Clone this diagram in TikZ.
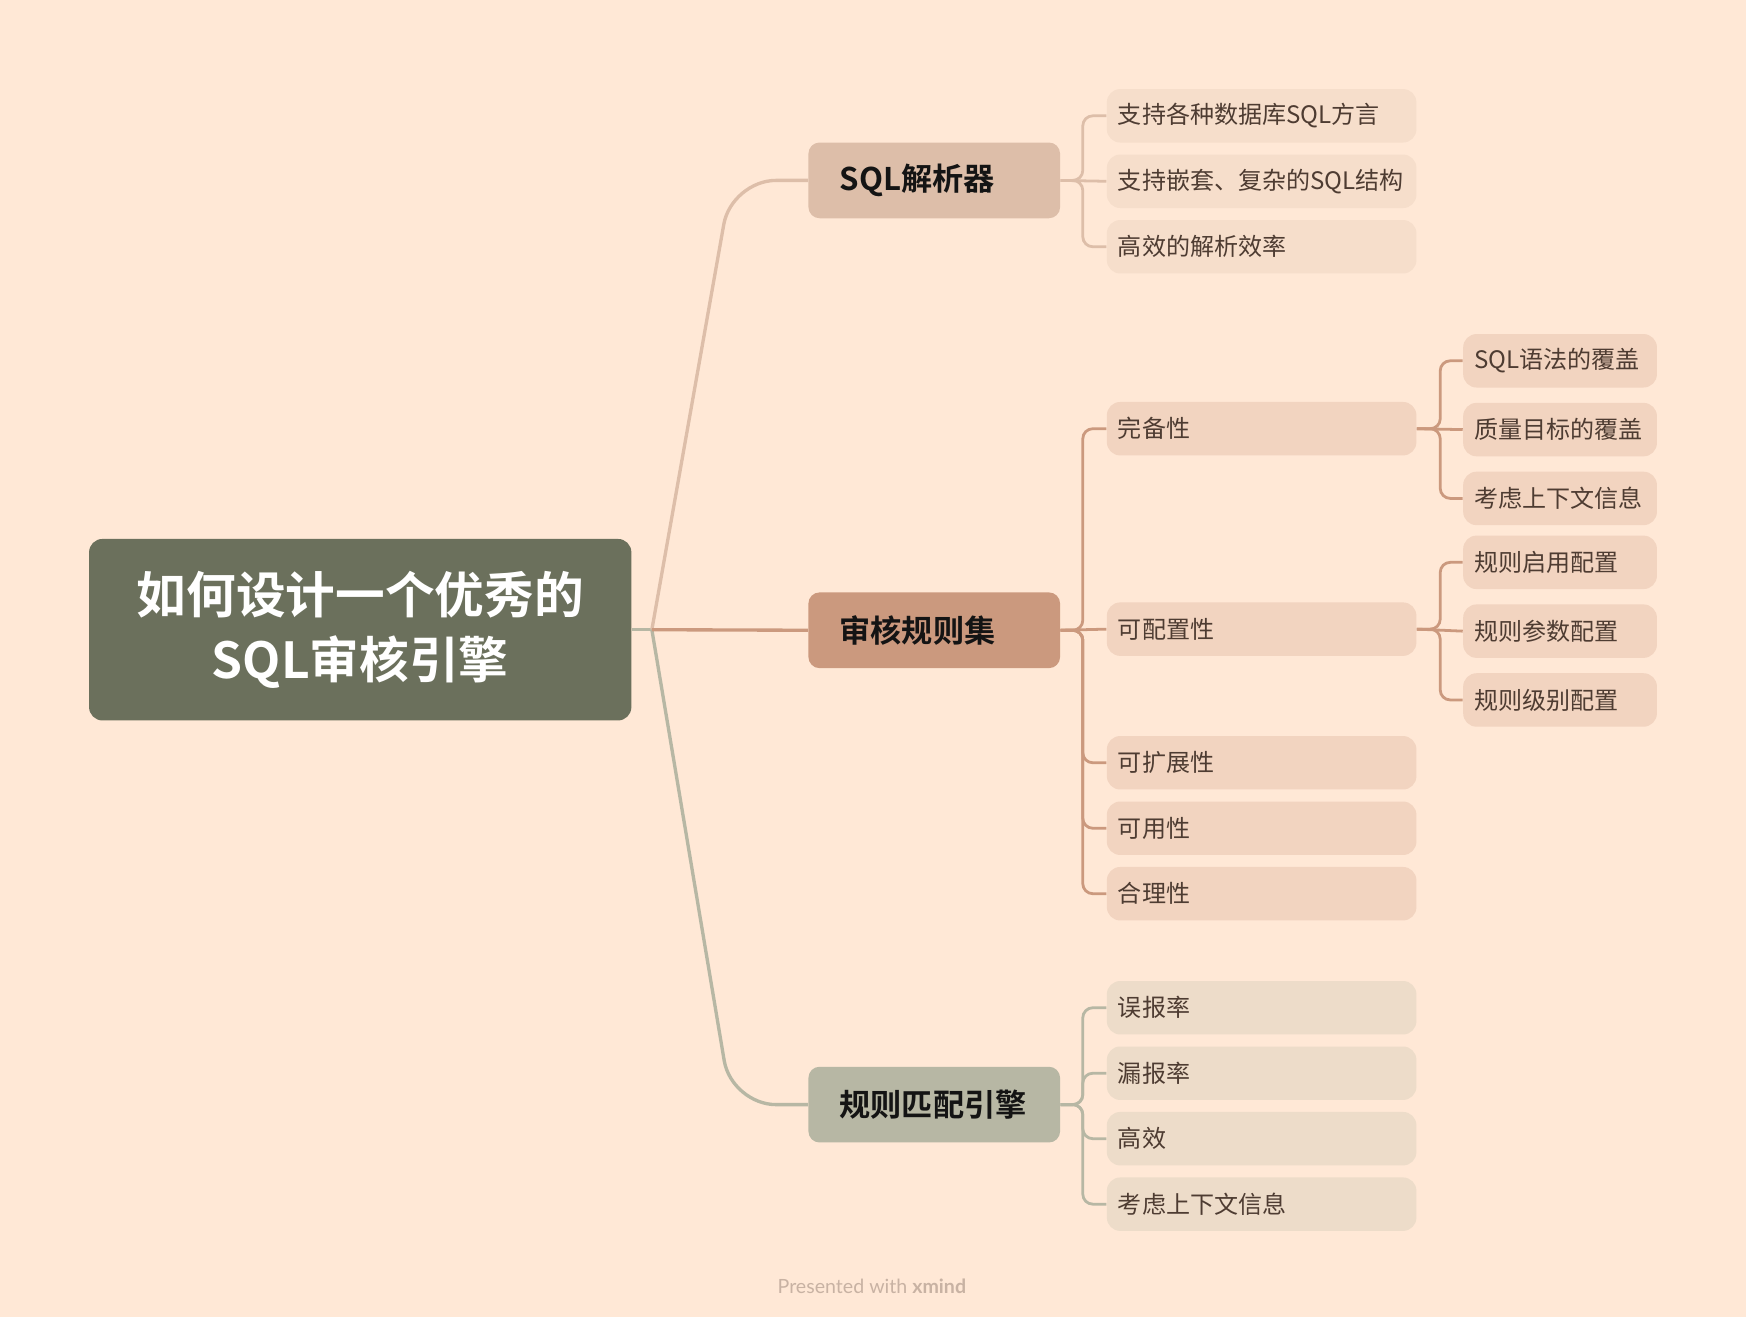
\documentclass[tikz,border=0pt]{standalone}
\usepackage{fontspec}
\setmainfont{Noto Sans CJK SC}[BoldFont={Noto Sans CJK SC Bold}]
\newfontfamily\footfont{Lato}
\usetikzlibrary{positioning}
\definecolor{bgpeach}{HTML}{FFE8D6}
\definecolor{rootgrey}{HTML}{6B705C}
\definecolor{sqlc}{HTML}{DDBEA9}
\definecolor{rulec}{HTML}{CB997E}
\definecolor{matchc}{HTML}{B7B7A4}
\definecolor{leaftext}{HTML}{4E3C32}
\definecolor{footc}{HTML}{C8B2A3}

\begin{document}
\begin{tikzpicture}[x=0.5pt,y=-0.5pt,node distance=5pt,
  root/.style={fill=rootgrey,rounded corners=6pt,minimum width=243.5pt,minimum height=81.5pt,inner sep=0pt,align=center,text=white,font=\fontsize{22.3}{29}\selectfont\bfseries},
  branch/.style={rounded corners=5pt,minimum width=113pt,minimum height=34pt,text width=85pt,inner xsep=14pt,inner ysep=0pt,align=left,text=black!92,font=\fontsize{14}{17}\selectfont\bfseries},
  leaf/.style={rounded corners=6pt,minimum height=24pt,inner xsep=5pt,inner ysep=0pt,align=left,text=leaftext,font=\fontsize{10.8}{12}\selectfont},
  sub/.style={leaf,text width=129pt},
  subsub/.style={leaf,text width=77pt},
  link/.style={line width=1.25pt,rounded corners=4.5pt}]
\fill[bgpeach] (0,0) rectangle (1568,1183);

% central topic and main branches
\node[root] (topic) at (323.5,565.5) {如何设计一个优秀的\\SQL审核引擎};
\node[branch,fill=sqlc] (parser) at (839,162) {SQL解析器};
\node[branch,fill=rulec] (rules) at (839,566) {审核规则集};
\node[branch,fill=matchc] (engine) at (839,992) {规则匹配引擎};
\coordinate (fork) at ([xshift=9pt]topic.east);

\draw[matchc,line width=1.5pt] (topic.east) -- (fork);
\draw[sqlc,line width=1.5pt,rounded corners=20pt] (fork) -- (657,162) -- (parser.west);
\draw[matchc,line width=1.5pt,rounded corners=20pt] (fork) -- (657,992) -- (engine.west);
\draw[rulec,line width=1.5pt] (fork) -- (rules.west);

% SQL parser
\node[sub,fill=sqlc!25!bgpeach] (p1) at (1133,104) {支持各种数据库SQL方言};
\node[sub,fill=sqlc!25!bgpeach,below=of p1] (p2) {支持嵌套、复杂的SQL结构};
\node[sub,fill=sqlc!25!bgpeach,below=of p2] (p3) {高效的解析效率};
\draw[sqlc,link] (parser.east) -- (p2.west);
\foreach \n in {p1,p3}
  \draw[sqlc,link] (parser.east) -- ++(10pt,0) |- (\n.west);

% rule set
\node[sub,fill=rulec!25!bgpeach] (r1) at (1133,385) {完备性};
\node[sub,fill=rulec!25!bgpeach] (r2) at (1133,565) {可配置性};
\node[sub,fill=rulec!25!bgpeach] (r3) at (1133,685) {可扩展性};
\node[sub,fill=rulec!25!bgpeach,below=of r3] (r4) {可用性};
\node[sub,fill=rulec!25!bgpeach,below=of r4] (r5) {合理性};
\draw[rulec,link] (rules.east) -- (r2.west);
\foreach \n in {r1,r3,r4,r5}
  \draw[rulec,link] (rules.east) -- ++(10pt,0) |- (\n.west);

\node[subsub,fill=rulec!25!bgpeach] (c1) at (1401,324) {SQL语法的覆盖};
\node[subsub,fill=rulec!25!bgpeach,below=6.5pt of c1] (c2) {质量目标的覆盖};
\node[subsub,fill=rulec!25!bgpeach,below=6.5pt of c2] (c3) {考虑上下文信息};
\draw[rulec,link] (r1.east) -- (c2.west);
\foreach \n in {c1,c3}
  \draw[rulec,link] (r1.east) -- ++(10.5pt,0) |- (\n.west);

\node[subsub,fill=rulec!25!bgpeach] (k1) at (1401,505) {规则启用配置};
\node[subsub,fill=rulec!25!bgpeach,below=6.5pt of k1] (k2) {规则参数配置};
\node[subsub,fill=rulec!25!bgpeach,below=6.5pt of k2] (k3) {规则级别配置};
\draw[rulec,link] (r2.east) -- (k2.west);
\foreach \n in {k1,k3}
  \draw[rulec,link] (r2.east) -- ++(10.5pt,0) |- (\n.west);

% matching engine
\node[sub,fill=matchc!25!bgpeach] (e1) at (1133,905) {误报率};
\node[sub,fill=matchc!25!bgpeach,below=of e1] (e2) {漏报率};
\node[sub,fill=matchc!25!bgpeach,below=of e2] (e3) {高效};
\node[sub,fill=matchc!25!bgpeach,below=of e3] (e4) {考虑上下文信息};
\foreach \n in {e1,e2,e3,e4}
  \draw[matchc,link] (engine.east) -- ++(10pt,0) |- (\n.west);

\node[font=\footfont\fontsize{8.8}{10}\selectfont,text=footc] (credit) at (783,1155) {Presented with \textbf{xmind}};
\end{tikzpicture}
\end{document}
